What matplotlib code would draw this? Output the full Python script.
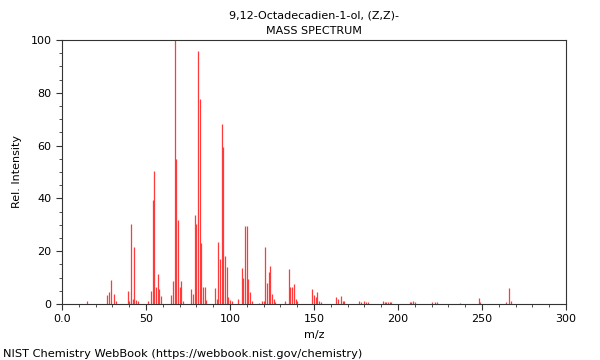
import numpy as np
import matplotlib
matplotlib.use("Agg")
import matplotlib.pyplot as plt
from matplotlib.ticker import MultipleLocator, FuncFormatter

# peaks
mz = [15, 27, 28, 29, 31, 32, 39, 40, 41, 42, 43, 44, 45,
      51, 53, 54, 55, 56, 57, 58, 59, 65, 66, 67, 68, 69, 70, 71, 72,
      77, 78, 79, 80, 81, 82, 83, 84, 85, 86, 91, 92, 93, 94, 95, 96, 97, 98, 99, 100, 101,
      105, 107, 108, 109, 110, 111, 112, 113, 117, 119, 120, 121, 122, 123, 124, 125, 126, 127,
      133, 135, 136, 137, 138, 139, 140, 149, 150, 151, 152, 153, 154,
      163, 164, 166, 167, 168, 177, 178, 180, 181, 182, 191, 192, 193, 194, 195, 196,
      207, 208, 209, 210, 220, 222, 223, 237, 248, 249, 264, 266, 267]
intensity = [1.0, 3.4, 4.4, 9.1, 3.7, 1.2, 4.9, 1.0, 30.2, 2.0, 21.5, 1.5, 1.0,
             1.0, 5.0, 39.4, 50.4, 6.5, 11.4, 5.6, 3.0, 3.3, 8.8, 100.0, 54.8, 32.0, 6.4, 8.8, 1.0,
             5.6, 3.8, 33.7, 30.3, 95.8, 77.5, 23.0, 6.3, 6.3, 1.5, 6.2, 1.8, 23.4, 17.0, 68.0, 59.6, 18.0, 14.1, 2.8, 1.5, 1.0,
             1.8, 13.5, 10.0, 29.5, 29.5, 9.3, 4.7, 1.1, 0.5, 1.0, 1.0, 21.5, 7.8, 12.2, 14.5, 3.8, 1.8, 0.8,
             1.0, 13.3, 6.3, 6.3, 7.6, 1.8, 1.0, 5.7, 3.5, 2.8, 4.7, 1.3, 0.8,
             2.5, 1.8, 3.0, 1.0, 1.0, 1.2, 0.8, 1.2, 0.8, 0.8, 1.0, 0.7, 0.7, 0.7, 0.7, 0.7,
             0.7, 0.7, 1.0, 0.7, 0.7, 0.7, 0.7, 0.5, 2.3, 0.8, 0.8, 6.0, 1.3]

title = "9,12-Octadecadien-1-ol, (Z,Z)-\nMASS SPECTRUM"
footer = "NIST Chemistry WebBook (https://webbook.nist.gov/chemistry)"

plt.rcParams['font.family'] = ['DejaVu Sans']
fig = plt.figure(figsize=(6, 3.6), dpi=100)
ax = fig.add_axes([0.1033, 0.1556, 0.84, 0.7333])

ax.vlines(mz, 0, intensity, color='#ff3a3a', linewidth=0.9)

ax.set_xlim(0, 300)
ax.set_ylim(0, 100)
ax.xaxis.set_major_locator(MultipleLocator(50))
ax.xaxis.set_minor_locator(MultipleLocator(10))
ax.yaxis.set_major_locator(MultipleLocator(20))
ax.yaxis.set_minor_locator(MultipleLocator(5))
ax.xaxis.set_major_formatter(FuncFormatter(lambda v, p: "0.0" if v == 0 else "%d" % v))
ax.tick_params(which='major', length=4, width=0.8, labelsize=8, color='#333333')
ax.tick_params(which='minor', length=2, width=0.6, color='#333333')
for s in ax.spines.values():
    s.set_linewidth(0.8)
    s.set_color('#333333')

ax.set_xlabel("m/z", fontsize=8, labelpad=4)
ax.set_ylabel("Rel. Intensity", fontsize=8, labelpad=6)
ax.set_title(title, fontsize=8, linespacing=1.75, pad=4)
fig.text(0.005, 0.003, footer, fontsize=8.2, ha='left', va='bottom')

fig.savefig("out.png", dpi=100)
